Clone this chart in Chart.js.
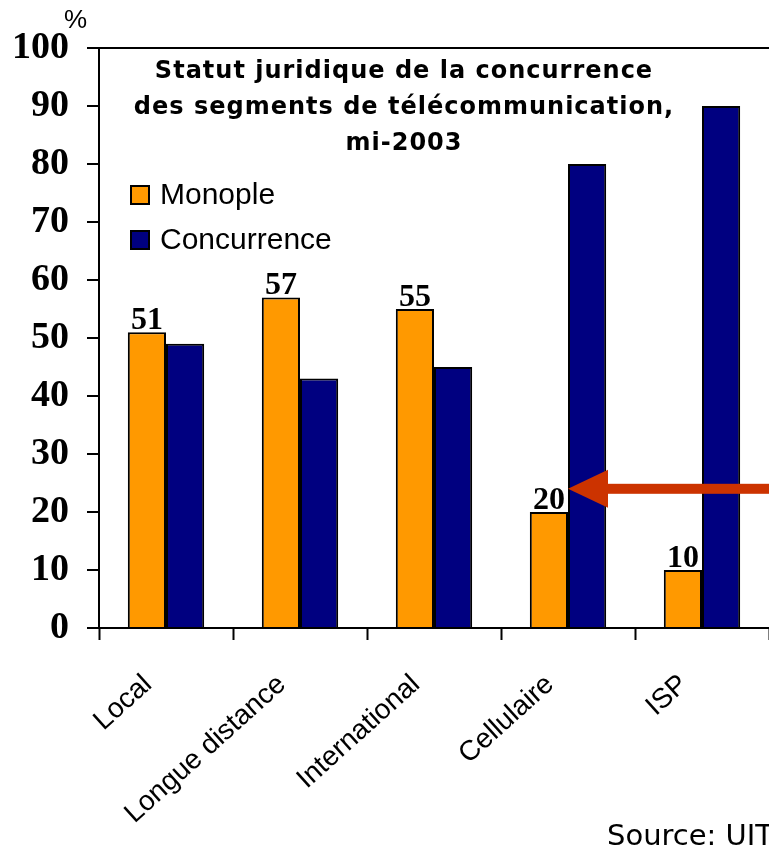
<!DOCTYPE html>
<html>
<head>
<meta charset="utf-8">
<script src="https://cdn.jsdelivr.net/npm/chart.js@4"></script>
<style>
  html, body { margin: 0; padding: 0; background: #fff; overflow: hidden; }
  #wrap { width: 769px; height: 852px; position: relative; }
</style>
</head>
<body>
<div id="wrap"><canvas id="chart"></canvas></div>
<script>
// Data
const categories = ['Local', 'Longue distance', 'International', 'Cellulaire', 'ISP'];
const monopoleValues = [51, 57, 55, 20, 10];
const concurrenceValues = [49, 43, 45, 80, 90];
const titleLines = ['Statut juridique de la concurrence', 'des segments de télécommunication,', 'mi-2003'];
const seriesNames = ['Monople', 'Concurrence'];
const arrowTarget = { category: 3, value: 24 };

const ORANGE = '#FF9900';
const NAVY = '#000080';

// Title, legend, labels, arrow and source, drawn over the chart
const overlayPlugin = {
  id: 'overlay',
  afterDatasetsDraw(chart) {
    const ctx = chart.ctx;
    const x = chart.scales.x;
    const y = chart.scales.y;
    ctx.save();

    // values above the orange bars
    ctx.fillStyle = '#000';
    ctx.font = 'bold 32px "Liberation Serif"';
    ctx.textAlign = 'center';
    ctx.textBaseline = 'alphabetic';
    chart.getDatasetMeta(0).data.forEach((bar, i) => {
      ctx.fillText(String(monopoleValues[i]), bar.x, bar.y - 3);
    });

    // arrow pointing at the cellular bar
    const tipX = x.getPixelForValue(arrowTarget.category);
    const tipY = y.getPixelForValue(arrowTarget.value);
    ctx.fillStyle = '#CC3300';
    ctx.fillRect(tipX + 30, tipY - 5, chart.width - tipX, 10);
    ctx.beginPath();
    ctx.moveTo(tipX, tipY);
    ctx.lineTo(tipX + 40, tipY - 19);
    ctx.lineTo(tipX + 40, tipY + 19);
    ctx.closePath();
    ctx.fill();

    // title
    ctx.fillStyle = '#000';
    ctx.font = 'bold 24px "DejaVu Sans"';
    ctx.letterSpacing = '1px';
    ctx.textAlign = 'center';
    ctx.textBaseline = 'middle';
    titleLines.forEach((line, i) => ctx.fillText(line, 404, 72 + i * 36));
    ctx.letterSpacing = '0px';

    // legend
    const colors = [ORANGE, NAVY];
    ctx.font = '30px "Liberation Sans"';
    ctx.textAlign = 'left';
    seriesNames.forEach((name, i) => {
      const cy = 195 + i * 45;
      ctx.fillStyle = colors[i];
      ctx.fillRect(131, cy - 9, 18, 18);
      ctx.lineWidth = 2;
      ctx.strokeStyle = '#000';
      ctx.strokeRect(131, cy - 9, 18, 18);
      ctx.fillStyle = '#000';
      ctx.fillText(name, 160, cy + 1);
    });

    // unit and source
    ctx.font = '26px "Liberation Sans"';
    ctx.fillText('%', 64, 21);
    ctx.font = '29px "DejaVu Sans"';
    ctx.textBaseline = 'alphabetic';
    ctx.fillText('Source: UIT', 607, 845);
    ctx.restore();
  }
};

new Chart(document.getElementById('chart'), {
  type: 'bar',
  data: {
    labels: categories,
    datasets: [
      {
        label: seriesNames[0],
        data: monopoleValues,
        backgroundColor: ORANGE,
        borderColor: '#000',
        borderWidth: 2,
        borderSkipped: 'bottom',
      },
      {
        label: seriesNames[1],
        data: concurrenceValues,
        backgroundColor: NAVY,
        borderColor: '#000',
        borderWidth: 2,
        borderSkipped: 'bottom',
      },
    ],
  },
  options: {
    responsive: true,
    maintainAspectRatio: false,
    animation: false,
    layout: { padding: { top: 48, left: 0, right: 0, bottom: 0 } },
    datasets: { bar: { categoryPercentage: 0.57, barPercentage: 1 } },
    plugins: {
      legend: { display: false },
      tooltip: { enabled: false },
    },
    scales: {
      x: {
        afterFit(scale) {
          scale.height = 224;
          scale.paddingLeft = 0;
          scale.paddingRight = 0;
        },
        border: { color: '#000', width: 2 },
        grid: {
          offset: true,
          drawOnChartArea: false,
          tickLength: 12,
          tickColor: '#000',
          tickWidth: 2,
        },
        ticks: {
          autoSkip: false,
          minRotation: 42,
          maxRotation: 42,
          padding: 28,
          labelOffset: -18,
          color: '#000',
          font: { family: '"Liberation Sans"', size: 28 },
        },
      },
      y: {
        min: 0,
        max: 100,
        afterFit(scale) { scale.width = 99; },
        border: { color: '#000', width: 2 },
        grid: {
          color: (c) => (c.tick && c.tick.value === 100 ? '#000' : 'rgba(0,0,0,0)'),
          lineWidth: 2,
          tickLength: 12,
          tickColor: '#000',
          tickWidth: 2,
        },
        ticks: {
          stepSize: 10,
          padding: 18,
          color: '#000',
          font: { family: '"Liberation Serif"', size: 38, weight: 'bold' },
        },
      },
    },
  },
  plugins: [overlayPlugin],
});
</script>
</body>
</html>
